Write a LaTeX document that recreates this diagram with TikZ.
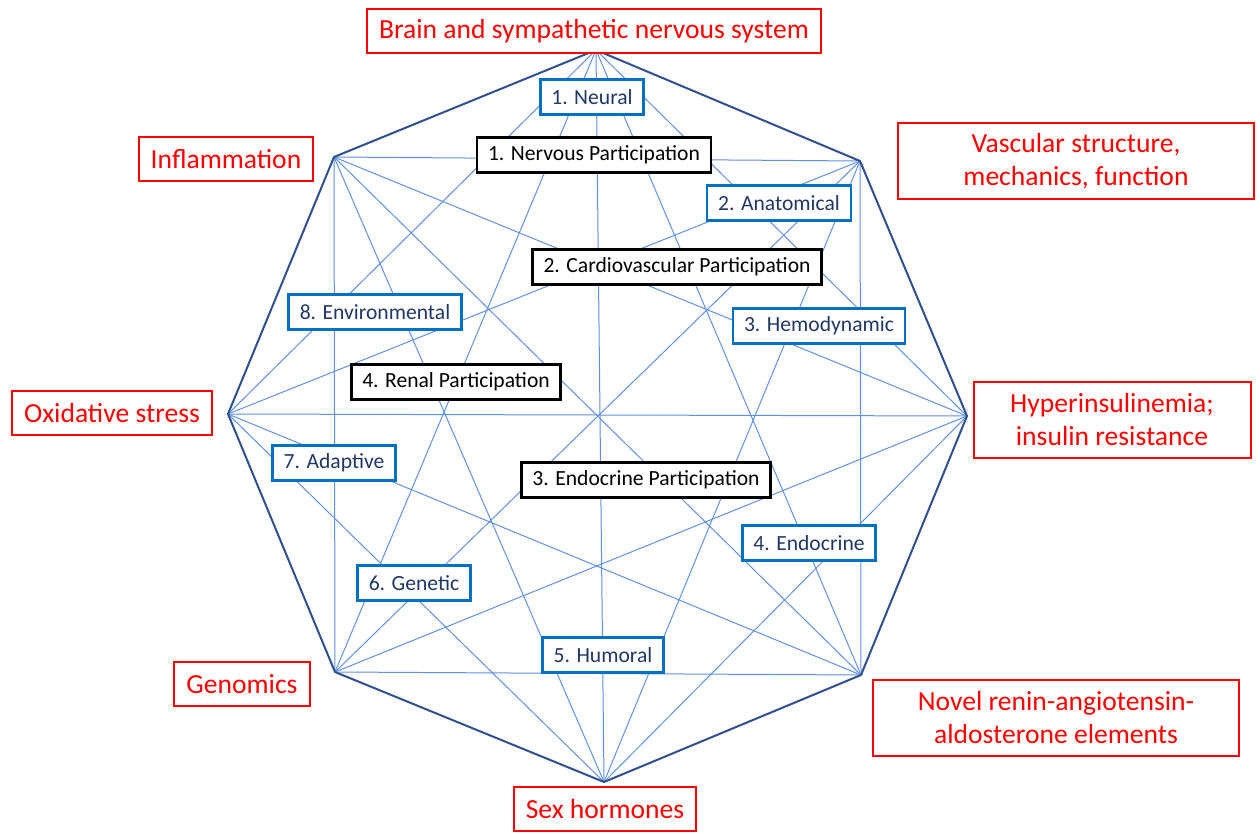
\documentclass[tikz,border=0pt]{standalone}
\usepackage{fontspec}
\setmainfont{Carlito}
\usepackage{tikz}
\usetikzlibrary{shapes.geometric, arrows}
\definecolor{lineblue}{RGB}{95,145,222}
\definecolor{darkblue}{RGB}{47,82,143}
\definecolor{boxblue}{RGB}{0,112,192}
\definecolor{navy}{RGB}{31,56,100}
\newcommand{\boxfont}{\fontsize{21.6}{26}\selectfont}
\newcommand{\redfont}{\fontsize{27.6}{33}\selectfont}
\tikzstyle{diag} = [draw=lineblue, line width=1pt]
\tikzstyle{side} = [draw=darkblue, line width=2pt, line join=round]
\tikzstyle{factor} = [draw=red, line width=2pt, fill=white, text=red, font=\redfont, align=center, inner xsep=12pt, inner ysep=0pt, minimum height=44pt]
\tikzstyle{mosaic} = [draw=boxblue, line width=2.6pt, fill=white, text=navy, font=\boxfont, inner xsep=11pt, inner ysep=0pt, minimum height=35pt]
\tikzstyle{part} = [draw=black, line width=2.6pt, fill=white, text=black, font=\boxfont, inner xsep=11pt, inner ysep=0pt, minimum height=35pt]

\begin{document}
\begin{tikzpicture}[x=1pt, y=-1pt]
\useasboundingbox (0,0) rectangle (1260,834);
% corners of the octagon
\coordinate (v1) at (596,50);
\coordinate (v2) at (860,161);
\coordinate (v3) at (967,416);
\coordinate (v4) at (861,675);
\coordinate (v5) at (604,782);
\coordinate (v6) at (335,672);
\coordinate (v7) at (228,414);
\coordinate (v8) at (334,157);
% every corner joined to every other
\foreach \i in {1,...,8}
  \foreach \j in {1,...,8}
    {\ifnum\i<\j \draw[diag] (v\i) -- (v\j); \fi}
\draw[side] (v1) -- (v2) -- (v3) -- (v4) -- (v5) -- (v6) -- (v7) -- (v8) -- cycle;

% outer factors
\node[factor] (brain) at (594,31) {Brain and sympathetic nervous system};
\node[factor] (inflam) at (226,159) {Inflammation};
\node[factor, minimum width=356pt, minimum height=76pt] (vascular) at (1076,161) {Vascular structure,\\mechanics, function};
\node[factor, minimum width=277pt, minimum height=76pt] (hyper) at (1112,420) {Hyperinsulinemia;\\insulin resistance};
\node[factor] (oxid) at (112,413) {Oxidative stress};
\node[factor] (genom) at (242,684) {Genomics};
\node[factor, minimum width=366pt, minimum height=76pt] (novel) at (1056,718) {Novel renin-angiotensin-\\aldosterone elements};
\node[factor] (sex) at (605,809) {Sex hormones};

% mosaic axes
\node[mosaic] (neural) at (592,97) {1. Neural};
\node[mosaic] (anat) at (779,203) {2. Anatomical};
\node[mosaic] (hemo) at (819,326) {3. Hemodynamic};
\node[mosaic] (endo) at (809,543) {4. Endocrine};
\node[mosaic] (humoral) at (603,655) {5. Humoral};
\node[mosaic] (genetic) at (414,583) {6. Genetic};
\node[mosaic] (adaptive) at (334,463) {7. Adaptive};
\node[mosaic] (environ) at (375,312) {8. Environmental};

% participations
\node[part] (nervous) at (594,155) {1. Nervous Participation};
\node[part] (cardio) at (677,267) {2. Cardiovascular Participation};
\node[part] (endopart) at (646,480) {3. Endocrine Participation};
\node[part] (renal) at (456,382) {4. Renal Participation};
\end{tikzpicture}
\end{document}
